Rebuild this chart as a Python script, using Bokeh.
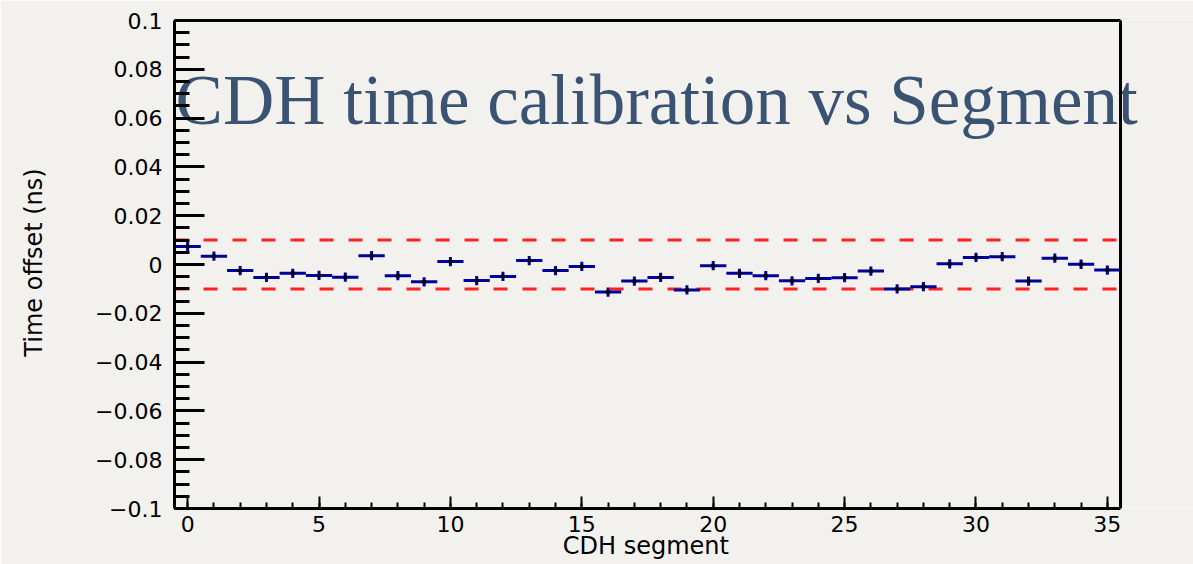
from bokeh.plotting import figure
from bokeh.models import FixedTicker, Label, ColumnDataSource
from bokeh.embed import file_html
from bokeh.resources import INLINE

# CDH time offsets per segment (ns)
segments = list(range(36))
offsets = [0.0074, 0.0034, -0.0025, -0.0053, -0.0036, -0.0045, -0.0052, 0.0036,
           -0.0046, -0.0071, 0.0012, -0.0066, -0.0049, 0.0016, -0.0025, -0.0008,
           -0.0113, -0.0068, -0.0053, -0.0104, -0.0005, -0.0036, -0.0046, -0.0067,
           -0.0057, -0.0054, -0.0027, -0.0100, -0.0091, 0.0003, 0.0029, 0.0032,
           -0.0068, 0.0026, 0.0001, -0.0023]
errors = [0.0019] * 36
bin_width = 1.0

# tolerance band (ns)
band = [-0.01, 0.01]

x_ticks = [0, 5, 10, 15, 20, 25, 30, 35]
y_ticks = [-0.1, -0.08, -0.06, -0.04, -0.02, 0.0, 0.02, 0.04, 0.06, 0.08, 0.1]
y_tick_labels = ["\u22120.1", "\u22120.08", "\u22120.06", "\u22120.04", "\u22120.02", "0",
                 "0.02", "0.04", "0.06", "0.08", "0.1"]

x_lo, x_hi = -0.5, 35.5
y_lo, y_hi = -0.1, 0.1

bg = "#f3f1ed"
bar_color = "#00009a"

# The drawing area runs to the right edge of the page so the big title is not cut;
# the histogram box itself is drawn explicitly from x_lo..x_hi, y_lo..y_hi.
W, H = 1193, 564
left, box_right, top, bottom = 174, 1120, 16, 56
x_view_hi = x_lo + (x_hi - x_lo) * (W - left) / (box_right - left)
y_view_hi = y_hi + (y_hi - y_lo) * 4 / (H - top - bottom - 4)

p = figure(width=W, height=H, x_range=(x_lo, x_view_hi), y_range=(y_lo, y_view_hi),
           output_backend="svg", toolbar_location=None,
           min_border_left=left, min_border_right=0, min_border_top=top, min_border_bottom=bottom)
p.background_fill_color = bg
p.border_fill_color = bg
p.outline_line_color = None
p.xgrid.visible = False
p.ygrid.visible = False

# large title text laid over the plot area, behind the histogram
title = Label(x=-0.46, y=0.0676, x_units="data", y_units="data",
              text="CDH time calibration vs Segment",
              text_font="Liberation Serif", text_font_size="71px",
              text_color="#3a5373", text_align="left", text_baseline="alphabetic",
              level="underlay")
p.add_layout(title)

# dashed tolerance lines
for yb in band:
    p.segment(x0=[x_lo], y0=[yb], x1=[x_hi], y1=[yb], line_color="#ff2222",
              line_width=3, line_dash="14 15")

src = ColumnDataSource(dict(
    x=segments,
    y=offsets,
    x0=[s - bin_width / 2 for s in segments],
    x1=[s + bin_width / 2 for s in segments],
    lo=[o - e for o, e in zip(offsets, errors)],
    hi=[o + e for o, e in zip(offsets, errors)],
))
p.segment(x0="x0", y0="y", x1="x1", y1="y", source=src, line_color=bar_color, line_width=3)
p.segment(x0="x", y0="lo", x1="x", y1="hi", source=src, line_color=bar_color, line_width=3)
p.scatter(x="x", y="y", source=src, marker="square", size=3, fill_color="black", line_color="black")

# top and right sides of the histogram box
p.segment(x0=[x_lo, x_hi], y0=[y_hi, y_lo], x1=[x_hi, x_hi], y1=[y_hi, y_hi],
          line_color="black", line_width=3)

# axes, ROOT style with inward ticks
xa = p.xaxis[0]
xa.ticker = FixedTicker(ticks=x_ticks, minor_ticks=segments)
xa.bounds = (x_lo, x_hi)
# trailing no-break spaces keep the label centred under the box rather than the wider frame
xa.axis_label = "CDH segment" + "\u00a0" * 10
ya = p.yaxis[0]
ya.ticker = FixedTicker(ticks=y_ticks, minor_ticks=[round(-0.1 + 0.005 * i, 3) for i in range(41)])
ya.major_label_overrides = {t: s for t, s in zip(y_ticks, y_tick_labels)}
ya.bounds = (y_lo, y_hi)
ya.axis_label = "Time offset (ns)"

for ax in (xa, ya):
    ax.axis_line_color = "black"
    ax.axis_line_width = 3
    ax.major_tick_line_color = "black"
    ax.minor_tick_line_color = "black"
    ax.major_tick_out = 0
    ax.minor_tick_out = 0
    ax.major_label_text_font = "DejaVu Sans"
    ax.major_label_text_font_size = "22px"
    ax.major_label_text_color = "black"
    ax.axis_label_text_font = "DejaVu Sans"
    ax.axis_label_text_font_size = "24px"
    ax.axis_label_text_font_style = "normal"
    ax.axis_label_text_color = "black"

xa.major_tick_in = 12
xa.minor_tick_in = 6
xa.major_tick_line_width = 2
xa.minor_tick_line_width = 2
xa.major_label_standoff = 7
xa.axis_label_standoff = -3

ya.major_tick_in = 30
ya.minor_tick_in = 15
ya.major_tick_line_width = 3
ya.minor_tick_line_width = 3
ya.major_label_standoff = 12
ya.axis_label_standoff = 44

open("out.html", "w").write(file_html(p, INLINE))
